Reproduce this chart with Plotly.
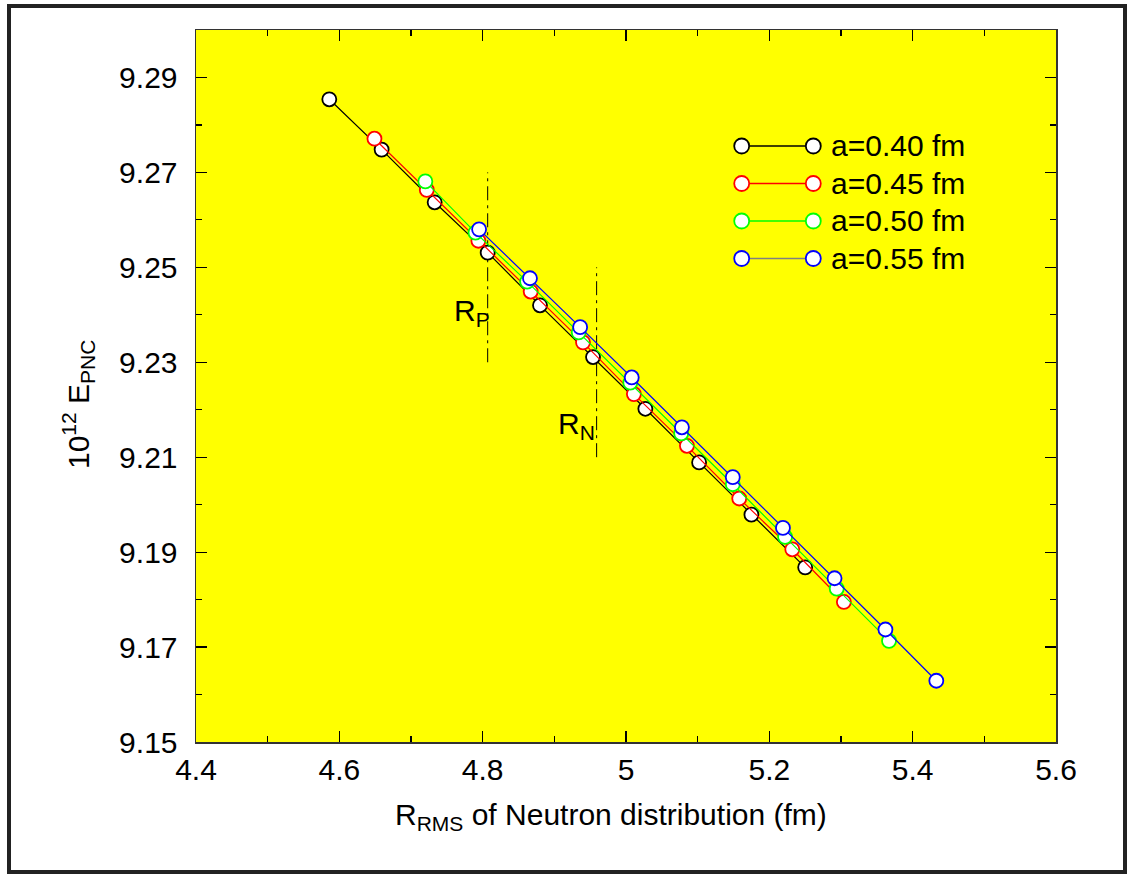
import plotly.graph_objects as go

# ---- data ----
x_a040 = [4.586, 4.659, 4.733, 4.807, 4.880, 4.954, 5.027, 5.102, 5.175, 5.250]
y_a040 = [9.2854, 9.2748, 9.2637, 9.2531, 9.2420, 9.2311, 9.2202, 9.2089, 9.1979, 9.1868]

x_a045 = [4.649, 4.722, 4.794, 4.867, 4.940, 5.011, 5.085, 5.158, 5.232, 5.304]
y_a045 = [9.2771, 9.2663, 9.2556, 9.2449, 9.2342, 9.2233, 9.2124, 9.2013, 9.1906, 9.1795]

x_a050 = [4.720, 4.790, 4.862, 4.934, 5.006, 5.077, 5.149, 5.222, 5.294, 5.367]
y_a050 = [9.2681, 9.2573, 9.2470, 9.2363, 9.2257, 9.2150, 9.2043, 9.1932, 9.1823, 9.1713]

x_a055 = [4.795, 4.866, 4.936, 5.008, 5.078, 5.149, 5.219, 5.291, 5.362, 5.433]
y_a055 = [9.2580, 9.2477, 9.2374, 9.2268, 9.2163, 9.2058, 9.1951, 9.1845, 9.1737, 9.1629]

series_names = ["a=0.40 fm", "a=0.45 fm", "a=0.50 fm", "a=0.55 fm"]
series_colors = ["#000000", "#ff0000", "#00ff00", "#0000ff"]
legend_line_colors = ["#000000", "#ff0000", "#00ff00", "#808080"]

r_p = 4.807
r_p_span = [9.23, 9.27]
r_n = 4.959
r_n_span = [9.21, 9.25]

x_ticks = [4.4, 4.6, 4.8, 5.0, 5.2, 5.4, 5.6]
y_ticks = [9.15, 9.17, 9.19, 9.21, 9.23, 9.25, 9.27, 9.29]

x_title = "R<sub>RMS</sub> of Neutron distribution (fm)"
y_title = "10<sup>12</sup> E<sub>PNC</sub>"

FONT = "Liberation Sans, Arial, sans-serif"

fig = go.Figure()

# reference lines R_P and R_N
for xv, span in [(r_p, r_p_span), (r_n, r_n_span)]:
    fig.add_trace(go.Scatter(
        x=[xv, xv], y=span, mode="lines",
        line=dict(color="#000000", width=1, dash="14px,5px,3px,5px"),
        showlegend=False, hoverinfo="skip"))

all_x = [x_a040, x_a045, x_a050, x_a055]
all_y = [y_a040, y_a045, y_a050, y_a055]
for xs, ys, name, col in zip(all_x, all_y, series_names, series_colors):
    fig.add_trace(go.Scatter(
        x=xs, y=ys, mode="lines+markers", name=name,
        line=dict(color=col, width=1.2),
        marker=dict(symbol="circle", size=14, color="#ffffff",
                    line=dict(color=col, width=1.8)),
        showlegend=False))

# ---- layout geometry ----
L, R, T, B = 196, 71, 30, 133
W, H = 1127, 875
pw = W - L - R
ph = H - T - B

def px_x(px):
    return (px - L) / pw

def px_y(py):
    return (H - B - py) / ph

shapes = []
annotations = []

# hand-made legend (two markers joined by a line)
leg_rows = [146, 183.5, 221, 258.5]
mx1, mx2, tx = 741.7, 813.3, 829
for row, name, col, lcol in zip(leg_rows, series_names, series_colors, legend_line_colors):
    yy = px_y(row)
    shapes.append(dict(type="line", xref="paper", yref="paper",
                       x0=px_x(mx1), x1=px_x(mx2), y0=yy, y1=yy,
                       line=dict(color=lcol, width=1.5), layer="above"))
    for mx in (mx1, mx2):
        shapes.append(dict(type="circle", xref="paper", yref="paper",
                           xsizemode="pixel", ysizemode="pixel",
                           xanchor=px_x(mx), yanchor=yy,
                           x0=-7.5, x1=7.5, y0=-7.5, y1=7.5,
                           fillcolor="#ffffff",
                           line=dict(color=col, width=1.8), layer="above"))
    annotations.append(dict(xref="paper", yref="paper", x=px_x(tx), y=yy,
                            xanchor="left", yanchor="middle", showarrow=False,
                            text=name, font=dict(family=FONT, size=30, color="#000000")))

# R_P, R_N labels
annotations.append(dict(x=4.757, y=9.2405, xref="x", yref="y", xanchor="left",
                        yanchor="middle", showarrow=False,
                        text="R<sub>P</sub>", font=dict(family=FONT, size=30, color="#000")))
annotations.append(dict(x=4.902, y=9.2166, xref="x", yref="y", xanchor="left",
                        yanchor="middle", showarrow=False,
                        text="R<sub>N</sub>", font=dict(family=FONT, size=30, color="#000")))

# axis titles (placed as in the reference)
annotations.append(dict(xref="paper", yref="paper", x=px_x(611), y=px_y(816),
                        xanchor="center", yanchor="middle", showarrow=False,
                        text=x_title, font=dict(family=FONT, size=30, color="#000")))
annotations.append(dict(xref="paper", yref="paper", x=px_x(78), y=px_y(405),
                        xanchor="center", yanchor="middle", showarrow=False, textangle=-90,
                        text=y_title, font=dict(family=FONT, size=30, color="#000")))

# outer frame
shapes.append(dict(type="rect", xref="paper", yref="paper",
                   x0=px_x(9), x1=px_x(1125), y0=px_y(872), y1=px_y(6),
                   line=dict(color="#222222", width=4), fillcolor="rgba(0,0,0,0)"))

axis_common = dict(
    showgrid=False, zeroline=False, showline=True, linecolor="#333333", linewidth=1.5,
    ticks="inside", ticklen=11, tickwidth=1.2, tickcolor="#000000", mirror="ticks",
    tickfont=dict(family=FONT, size=30, color="#000000"),
)

fig.update_layout(
    width=W, height=H,
    margin=dict(l=L, r=R, t=T, b=B, pad=0),
    paper_bgcolor="#ffffff",
    plot_bgcolor="#ffff00",
    shapes=shapes,
    annotations=annotations,
    xaxis=dict(range=[4.4, 5.6], tickvals=x_ticks,
               ticktext=[f"{v:g}" for v in x_ticks],
               minor=dict(dtick=0.1, tick0=4.4, ticks="inside", ticklen=6,
                          tickwidth=1.2, tickcolor="#000000", showgrid=False),
               **axis_common),
    yaxis=dict(range=[9.15, 9.30], tickvals=y_ticks,
               ticktext=[f"{v:.2f}" for v in y_ticks],
               ticklabelstandoff=11,
               minor=dict(dtick=0.01, tick0=9.15, ticks="inside", ticklen=6,
                          tickwidth=1.2, tickcolor="#000000", showgrid=False),
               **axis_common),
    font=dict(family=FONT, color="#000000"),
)

fig.write_html("out.html",
               config={"displayModeBar": False, "staticPlot": True},
               post_script="document.body.style.margin='0px';document.body.style.overflow='hidden';")
